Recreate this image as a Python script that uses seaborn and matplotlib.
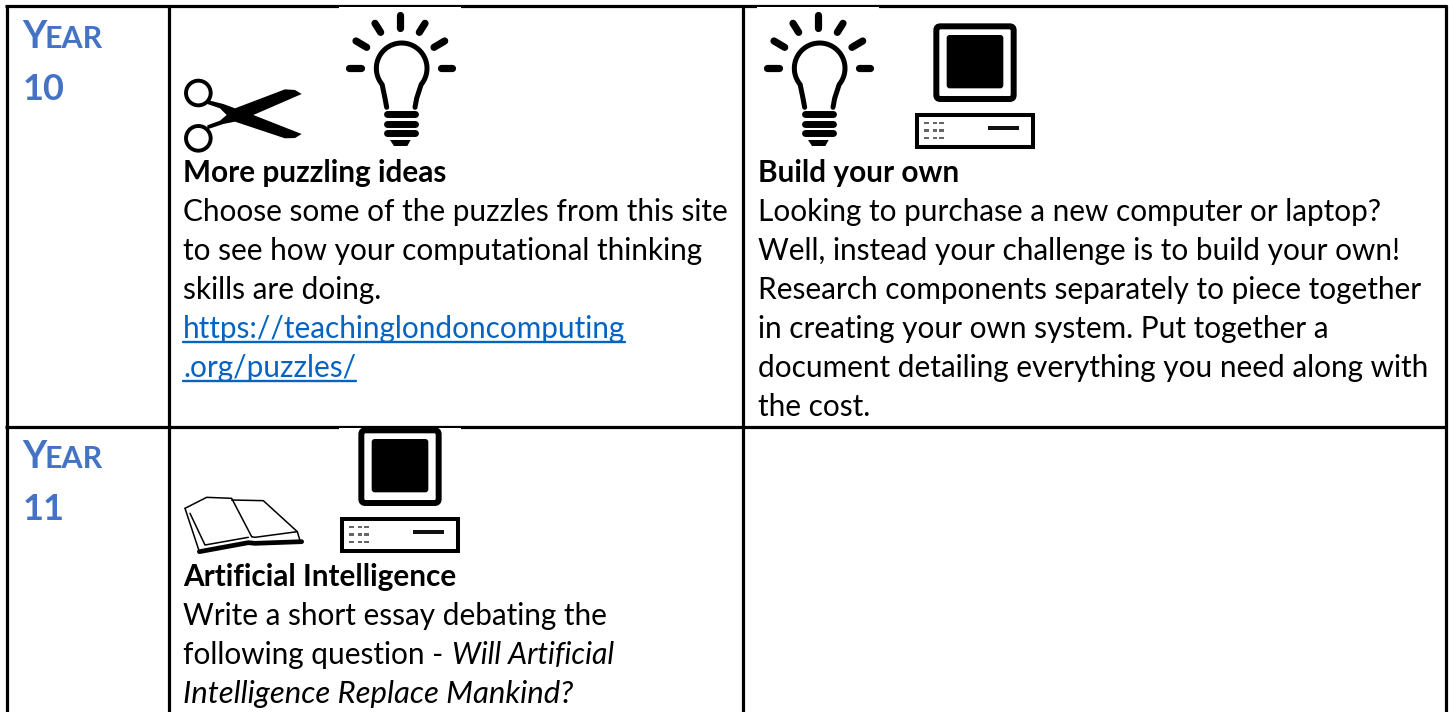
import numpy as np
import seaborn as sns
import matplotlib.pyplot as plt
from matplotlib.patches import Circle, FancyBboxPatch, Polygon, Rectangle

# table text
year_labels = ['10', '11']
title_a = 'More puzzling ideas'
body_a = ['Choose some of the puzzles from this site',
          'to see how your computational thinking',
          'skills are doing.']
link_a = ['https://teachinglondoncomputing', '.org/puzzles/']
title_b = 'Build your own'
body_b = ['Looking to purchase a new computer or laptop?',
          'Well, instead your challenge is to build your own!',
          'Research components separately to piece together',
          'in creating your own system. Put together a',
          'document detailing everything you need along with',
          'the cost.']
title_c = 'Artificial Intelligence'
body_c = ['Write a short essay debating the']
question_lead = 'following question - '
question_rest = ['Will Artificial', 'Intelligence Replace Mankind?']

BLACK = '#000000'
BLUE = '#4472C4'
LINK = '#0563C1'
FS = 21.45
FS_IT = 22.4
PITCH = 39.1

sns.set_theme(style='white')
plt.rcParams['font.family'] = ['Lato', 'DejaVu Sans']

fig = plt.figure(figsize=(14.49, 7.12), dpi=100)
ax = fig.add_axes([0, 0, 1, 1])
ax.set_xlim(0, 1449)
ax.set_ylim(712, 0)
sns.despine(ax=ax, left=True, bottom=True)
ax.set_axis_off()


def put(x, y, s, **kw):
    kw.setdefault('fontsize', FS)
    kw.setdefault('color', BLACK)
    return ax.text(x, y, s, va='baseline', ha='left', **kw)


def bulb(cx, s=1 / 3):
    rays = [(0, 45, 0, 85), (-75, 70, -58, 97), (75, 70, 58, 97),
            (-132, 123, -100, 142), (134, 123, 102, 142),
            (-152, 203, -118, 203), (122, 203, 156, 203)]
    for x1, y1, x2, y2 in rays:
        ax.plot([cx + x1 * s, cx + x2 * s], [y1 * s, y2 * s], color=BLACK, lw=5.2, solid_capstyle='round')
    t = np.linspace(np.pi * 1.22, -np.pi * 0.22, 60)
    bx = 5 + 76 * np.cos(t)
    by = 205 - 76 * np.sin(t)
    bx = np.concatenate([[-40, -45], bx, [50, 45]])
    by = np.concatenate([[322, 295], by, [295, 322]])
    ax.plot(cx + bx * s, by * s, color=BLACK, lw=3.6)
    for yy in (342, 371, 400):
        ax.plot([cx - 40 * s, cx + 44 * s], [yy * s, yy * s], color=BLACK, lw=5, solid_capstyle='round')
    ax.add_patch(Polygon([(cx - 30 * s, 420 * s), (cx + 32 * s, 420 * s), (cx + 22 * s, 438 * s), (cx - 18 * s, 438 * s)],
                         color=BLACK, lw=0))


def computer(dx, dy, s=1 / 3):
    def px(v):
        return 740 + v * s + dx

    def py(v):
        return v * s + dy
    ax.add_patch(FancyBboxPatch((px(589), py(79)), 232 * s, 218 * s, boxstyle='round,pad=0,rounding_size=4',
                                fc='white', ec=BLACK, lw=4.3))
    ax.add_patch(FancyBboxPatch((px(620), py(105)), 170 * s, 160 * s, boxstyle='round,pad=0,rounding_size=3',
                                fc=BLACK, ec=BLACK, lw=0))
    ax.add_patch(Rectangle((px(531), py(344)), 348 * s, 98 * s, fc='white', ec=BLACK, lw=2.9))
    ax.add_patch(Rectangle((px(745), py(378)), 93 * s, 12 * s, fc='#111111', lw=0))
    for yy in (365, 388, 410):
        for xx in (552, 578, 598):
            ax.add_patch(Rectangle((px(xx), py(yy)), 14 * s, 8 * s, fc='#666666', lw=0))


def scissors(x0, s=1 / 3):
    for yy in (279, 415):
        ax.add_patch(Circle((x0 + 85 * s, yy * s), 37 * s, fc='none', ec=BLACK, lw=2.8))
    ax.add_patch(Polygon([(x0 + v * s, w * s) for v, w in
                          [(112, 300), (160, 312), (195, 325), (345, 268), (375, 270), (395, 282), (250, 345),
                           (395, 402), (375, 414), (345, 415), (195, 365), (160, 372), (112, 388), (112, 376),
                           (150, 362), (170, 345), (150, 325), (112, 312)]], color=BLACK, lw=0))


def book(x0, y0, s=1 / 3):
    outline = [[(45, 265), (110, 232), (185, 235), (245, 350)],
               [(185, 240), (280, 242), (382, 335), (255, 352), (245, 350)],
               [(45, 265), (88, 395)], [(60, 280), (105, 375), (235, 352)],
               [(382, 335), (390, 362)]]
    for seg in outline:
        ax.plot([x0 + v * s for v, w in seg], [y0 + w * s for v, w in seg], color=BLACK, lw=1.1)
    ax.plot([x0 + v * s for v in (88, 235, 255, 395)], [y0 + w * s for w in (395, 368, 370, 365)], color=BLACK, lw=3.4)


# grid of the table
ax.vlines([7, 168.5, 743, 1445.5], 5, 712, color=BLACK, lw=2.3, zorder=0.5)
ax.hlines([6, 426.5], 5, 1447, color=BLACK, lw=2.3, zorder=0.5)

# white picture backgrounds that cut in the rules
for x, y in [(339, 7), (757, 7), (339, 427.5)]:
    ax.add_patch(Rectangle((x, y), 122, 4, fc='white', lw=0, zorder=0.9))

scissors(170)
bulb(400)
bulb(818)
computer(0, 0)
computer(-575, 404)
book(170, 420)

# year labels
for lab, top in zip(year_labels, [48, 468]):
    put(22, top, 'Y', fontsize=27, color=BLUE, fontweight='bold')
    put(44.5, top, 'EAR', fontsize=21.9, color=BLUE, fontweight='bold')
    put(23, top + 52, lab, fontsize=26, color=BLUE, fontweight='bold')

# first row, middle cell
put(183, 182, title_a, fontweight='bold')
for i, line in enumerate(body_a):
    put(183, 221 + i * PITCH, line)
fig.canvas.draw()
rend = fig.canvas.get_renderer()
for i, line in enumerate(link_a):
    yy = 338 + i * PITCH
    t = put(183, yy, line, color=LINK)
    box = t.get_window_extent(rend)
    ax.plot([box.x0, box.x1], [yy + 4, yy + 4], color=LINK, lw=1.7)

# first row, right cell
put(758, 182, title_b, fontweight='bold')
for i, line in enumerate(body_b):
    put(758, 221 + i * PITCH, line)

# second row
put(183, 586, title_c, fontweight='bold')
put(183, 625, body_c[0])
t = put(183, 664, question_lead)
box = t.get_window_extent(rend)
put(box.x1 + 1, 664, question_rest[0], style='italic', fontsize=FS_IT - 0.7)
put(183, 703, question_rest[1], style='italic', fontsize=FS_IT)

fig.savefig('out.png', dpi=100)
